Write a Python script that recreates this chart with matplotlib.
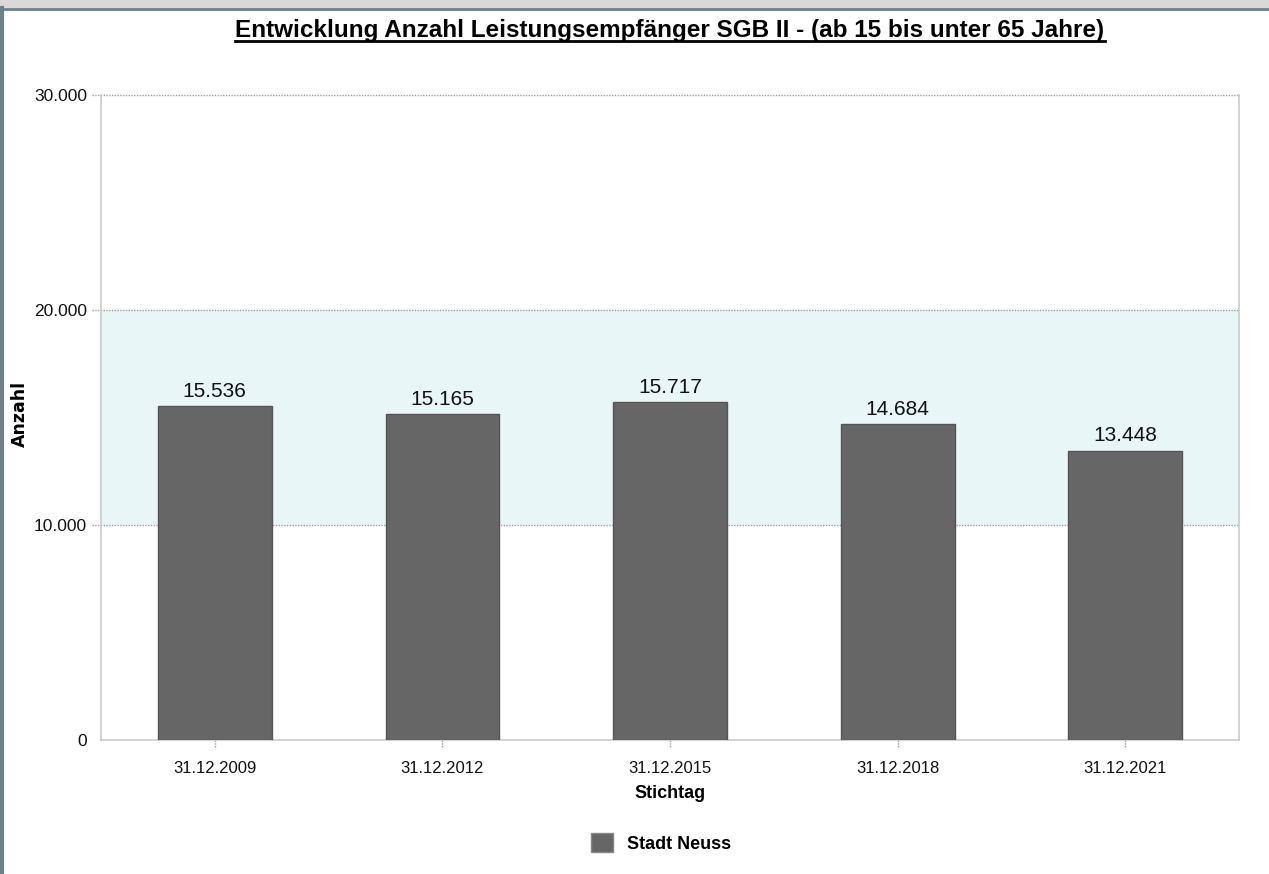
import numpy as np
import matplotlib
matplotlib.use("Agg")
import matplotlib.pyplot as plt
from matplotlib.patches import Rectangle
from matplotlib.lines import Line2D
import matplotlib.transforms as mtransforms

# data
stichtage = ["31.12.2009", "31.12.2012", "31.12.2015", "31.12.2018", "31.12.2021"]
anzahl = [15536, 15165, 15717, 14684, 13448]
series_name = "Stadt Neuss"
yticks = [0, 10000, 20000, 30000]
band = (10000, 20000)

title = "Entwicklung Anzahl Leistungsempfänger SGB II - (ab 15 bis unter 65 Jahre)"

SANS = ["Liberation Sans", "DejaVu Sans"]


def de_fmt(v):
    return "{:,}".format(int(v)).replace(",", ".")


fig = plt.figure(figsize=(12.69, 8.74), dpi=100)
fig.patch.set_facecolor("white")

# window frame like the screenshot
fig.patches.append(Rectangle((0, 1 - 8 / 874), 1, 8 / 874, transform=fig.transFigure,
                             facecolor="#d9d9d9", edgecolor="none", zorder=0))
fig.lines.append(Line2D([0, 1], [1 - 8.5 / 874] * 2, transform=fig.transFigure,
                        color="#6f7f8a", lw=2))
fig.lines.append(Line2D([2.5 / 1269] * 2, [0, 1 - 8 / 874], transform=fig.transFigure,
                        color="#6f7f8a", lw=3))

ax = fig.add_axes([101 / 1269, 134 / 874, 1138 / 1269, 645 / 874])
x = np.arange(len(stichtage))

ax.axhspan(band[0], band[1], color="#e8f6f8", zorder=0, lw=0)
ax.bar(x, anzahl, width=0.5, color="#666666", edgecolor="#555555", lw=1, zorder=3)

for xi, v in zip(x, anzahl):
    ax.text(xi, v + 250, de_fmt(v), ha="center", va="bottom", fontsize=15,
            family=SANS, color="#111111", zorder=4)

ax.set_xlim(-0.5, 4.5)
ax.set_ylim(0, 30000)
ax.set_xticks(x)
ax.set_xticklabels(stichtage, family=SANS, fontsize=12)
ax.set_yticks(yticks)
ax.set_yticklabels([de_fmt(v) for v in yticks], family=SANS, fontsize=12.5)
ax.tick_params(length=0, pad=15, colors="#111111")
ax.tick_params(axis="y", pad=10)

# dotted grid lines, reaching left past the axis
trans_y = mtransforms.blended_transform_factory(ax.transAxes, ax.transData)
for v in yticks[1:]:
    ax.plot([-0.008, 1], [v, v], transform=trans_y, color="#a0a0a0", lw=1,
            ls=(0, (1, 1)), clip_on=False, zorder=2)
trans_x = mtransforms.blended_transform_factory(ax.transData, ax.transAxes)
for xi in x:
    ax.plot([xi, xi], [0, -0.013], transform=trans_x, color="#a0a0a0", lw=1,
            ls=(0, (1, 1)), clip_on=False)

for s in ["left", "right", "bottom"]:
    ax.spines[s].set_color("#c8ccd0")
    ax.spines[s].set_linewidth(1.2)
ax.spines["top"].set_visible(False)

fig.text(20 / 1269, 1 - 414 / 874, "Anzahl", rotation=90, ha="center", va="center",
         fontsize=12.5, fontweight="bold", family="DejaVu Sans")
fig.text(670 / 1269, 1 - 793 / 874, "Stichtag", ha="center", va="center",
         fontsize=13, fontweight="bold", family=SANS)

t = fig.text(670 / 1269, 1 - 30 / 874, title, ha="center", va="center",
             fontsize=17.5, fontweight="bold", family=SANS)

leg = fig.legend([Rectangle((0, 0), 1, 1, facecolor="#666666", edgecolor="#888888")],
                 [series_name], loc="center", bbox_to_anchor=(661 / 1269, 31 / 874),
                 frameon=False, handlelength=1.2, handleheight=1.2, handletextpad=0.8,
                 prop={"family": SANS, "weight": "bold", "size": 13})

# underline the title
fig.canvas.draw()
bb = t.get_window_extent()
fig.lines.append(Line2D([bb.x0, bb.x1], [bb.y0 + 1, bb.y0 + 1], color="black", lw=2,
                        transform=None))

fig.savefig("out.png", dpi=100)
